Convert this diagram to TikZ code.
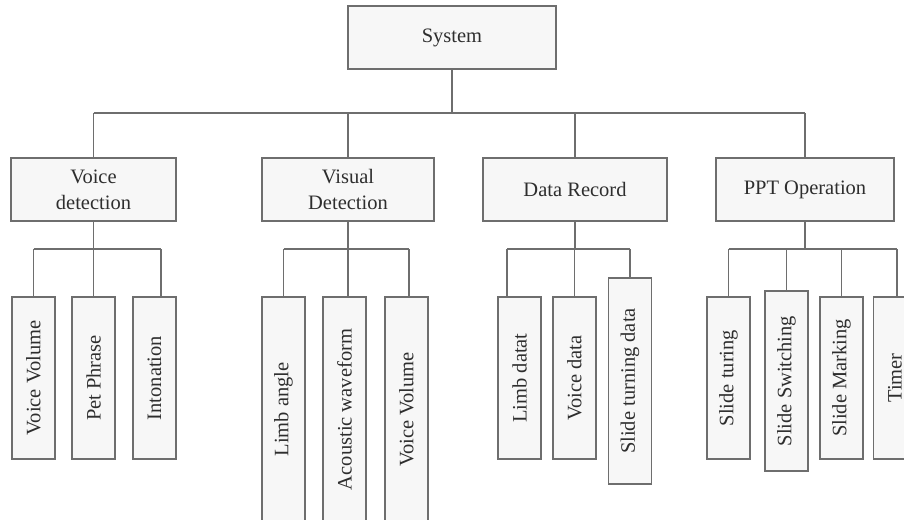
\documentclass[tikz,border=0pt]{standalone}
\usepackage{fontspec}
\setmainfont{Liberation Serif}
\definecolor{boxfill}{HTML}{F7F7F7}
\definecolor{boxline}{HTML}{6E6E6E}
\definecolor{txt}{HTML}{2E2E2E}
\begin{document}
\begin{tikzpicture}[x=1pt,y=-1pt,
  base/.style={draw=boxline, fill=boxfill, line width=1.1pt, inner sep=0pt, text=txt,
    font=\fontsize{20.5}{26}\selectfont, align=center},
  topbox/.style={base, minimum width=208pt, minimum height=63pt},
  midbox/.style={base, minimum height=63pt},
  leaf/.style={base, minimum width=43pt},
  conn/.style={draw=boxline, line width=1.1pt}]
\useasboundingbox (0,0) rectangle (904,519);
\clip (0,0) rectangle (904,519);
\coordinate (busA) at (0,113);
\coordinate (busB) at (0,249);
% top
\node[topbox] (sys) at (452,37.5) {System};
% level 2
\node[midbox, minimum width=165pt] (vd) at (93.5,189.5) {Voice\\detection};
\node[midbox, minimum width=172pt] (visd) at (348,189.5) {Visual\\Detection};
\node[midbox, minimum width=184pt] (dr) at (575,189.5) {Data Record};
\node[midbox, minimum width=178pt] (ppt) at (805,189.5) {PPT Operation};
% leaves
\node[leaf, minimum height=162pt] (vv1) at (33.5,378) {\rotatebox{90}{Voice Volume}};
\node[leaf, minimum height=162pt] (pp) at (93.5,378) {\rotatebox{90}{Pet Phrase}};
\node[leaf, minimum height=162pt] (into) at (154.5,378) {\rotatebox{90}{Intonation}};
\node[leaf, minimum height=225pt] (la) at (283.5,409.5) {\rotatebox{90}{Limb angle}};
\node[leaf, minimum height=225pt] (aw) at (344.5,409.5) {\rotatebox{90}{Acoustic waveform}};
\node[leaf, minimum height=225pt] (vv2) at (406.5,409.5) {\rotatebox{90}{Voice Volume}};
\node[leaf, minimum height=162pt] (ld) at (519.5,378) {\rotatebox{90}{Limb datat}};
\node[leaf, minimum height=162pt] (vdat) at (574.5,378) {\rotatebox{90}{Voice data}};
\node[leaf, minimum height=206pt] (std) at (630,381) {\rotatebox{90}{Slide turning data}};
\node[leaf, minimum height=162pt] (st) at (728.5,378) {\rotatebox{90}{Slide turing}};
\node[leaf, minimum height=180pt] (ss) at (786.5,381) {\rotatebox{90}{Slide Switching}};
\node[leaf, minimum height=162pt] (sm) at (841.5,378) {\rotatebox{90}{Slide Marking}};
\node[leaf, minimum height=162pt] (tm) at (895,378) {\rotatebox{90}{Timer}};
% connectors level 1-2
\draw[conn] (sys.south) -- (sys.south |- busA);
\draw[conn] (vd.north |- busA) -- (ppt.north |- busA);
\foreach \n in {vd,visd,dr,ppt} \draw[conn] (\n.north) -- (\n.north |- busA);
% voice group
\draw[conn] (vd.south) -- (vd.south |- busB);
\draw[conn] (vv1.north |- busB) -- ([xshift=6.5pt]into.north |- busB);
\draw[conn] (vv1.north) -- (vv1.north |- busB);
\draw[conn] (pp.north) -- (pp.north |- busB);
\draw[conn] ([xshift=6.5pt]into.north) -- ([xshift=6.5pt]into.north |- busB);
% visual group
\draw[conn] (visd.south) -- (visd.south |- busB);
\draw[conn] (la.north |- busB) -- ([xshift=2.5pt]vv2.north |- busB);
\draw[conn] (la.north) -- (la.north |- busB);
\draw[conn] ([xshift=3.5pt]aw.north) -- ([xshift=3.5pt]aw.north |- busB);
\draw[conn] ([xshift=2.5pt]vv2.north) -- ([xshift=2.5pt]vv2.north |- busB);
% data group
\draw[conn] (dr.south) -- (dr.south |- busB);
\draw[conn] ([xshift=-12.5pt]ld.north |- busB) -- (std.north |- busB);
\draw[conn] ([xshift=-12.5pt]ld.north) -- ([xshift=-12.5pt]ld.north |- busB);
\draw[conn] (vdat.north) -- (vdat.north |- busB);
\draw[conn] (std.north) -- (std.north |- busB);
% ppt group
\draw[conn] (ppt.south) -- (ppt.south |- busB);
\draw[conn] (st.north |- busB) -- ([xshift=2pt]tm.north |- busB);
\foreach \n in {st,ss,sm} \draw[conn] (\n.north) -- (\n.north |- busB);
\draw[conn] ([xshift=2pt]tm.north) -- ([xshift=2pt]tm.north |- busB);
\end{tikzpicture}
\end{document}
